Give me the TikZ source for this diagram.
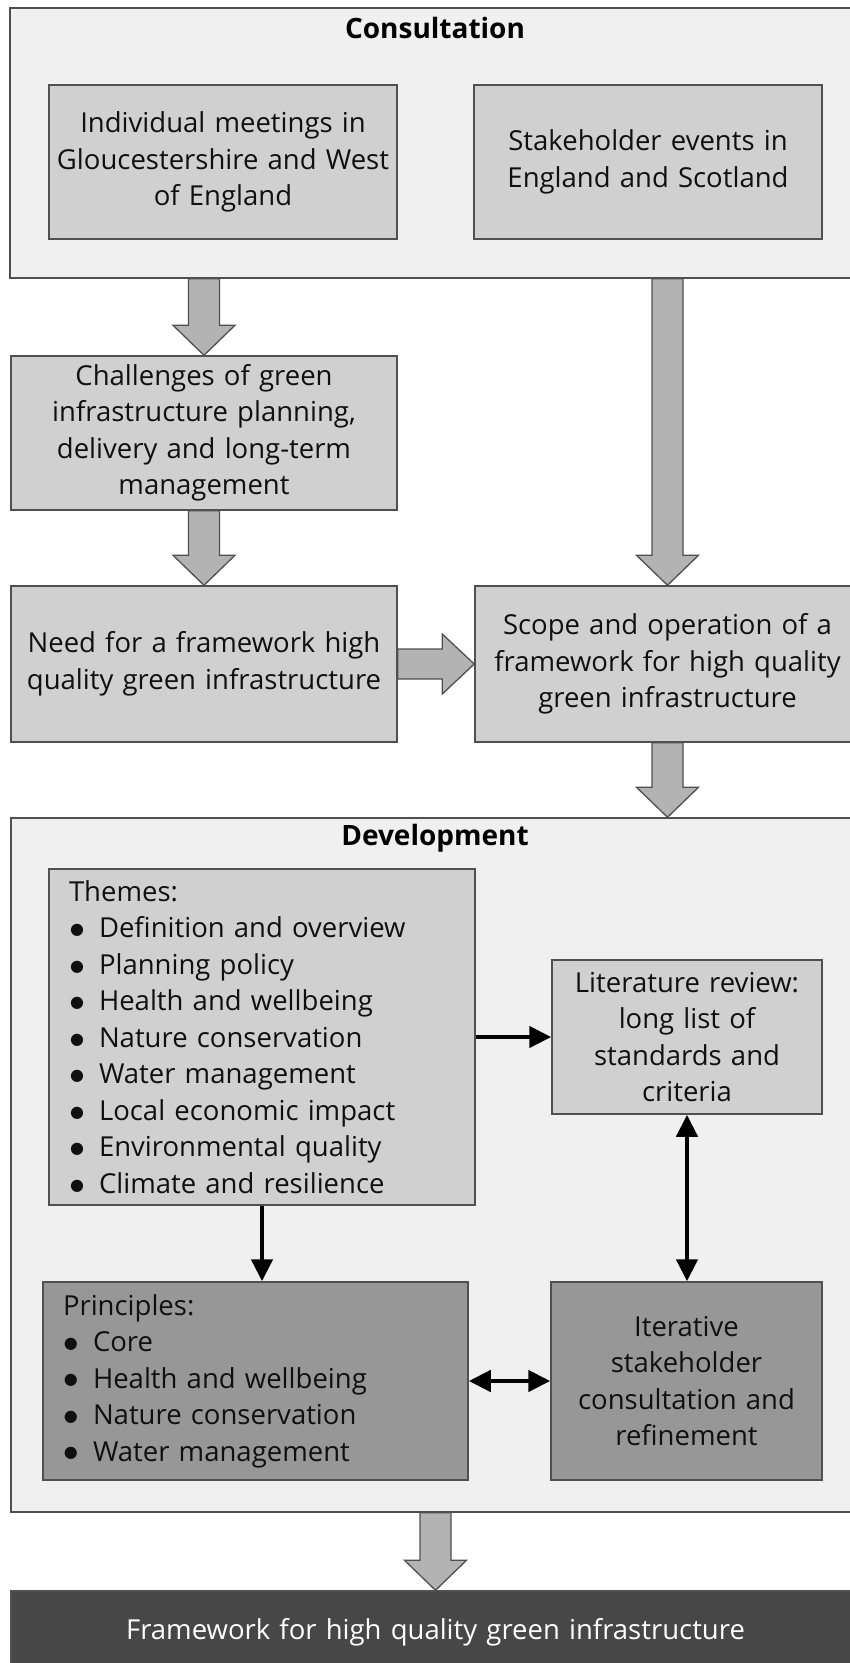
\documentclass[tikz,border=0pt]{standalone}
\usepackage{fontspec}
\setmainfont{Open Sans}
\newfontfamily\dejavu{DejaVu Sans}
\usetikzlibrary{arrows.meta,calc}
\definecolor{contfill}{HTML}{F0F0F0}
\definecolor{lightbox}{HTML}{D0D0D0}
\definecolor{midbox}{HTML}{979797}
\definecolor{darkbox}{HTML}{474747}
\definecolor{edge}{HTML}{505050}
\definecolor{blkfill}{HTML}{B3B3B3}
\definecolor{txt}{HTML}{101010}
\newcommand\blkdown[2]{%
  \filldraw[blk] let \p1=#1, \p2=#2 in
   (\x2-15.5pt,\y1) -- (\x2+15.5pt,\y1) -- (\x2+15.5pt,\y2+30pt) -- (\x2+31pt,\y2+30pt)
   -- (\x2,\y2) -- (\x2-31pt,\y2+30pt) -- (\x2-15.5pt,\y2+30pt) -- cycle;}
\newcommand\blkright[2]{%
  \filldraw[blk] let \p1=#1, \p2=#2 in
   (\x1,\y1+15pt) -- (\x2-32pt,\y1+15pt) -- (\x2-32pt,\y1+30pt) -- (\x2,\y1)
   -- (\x2-32pt,\y1-30pt) -- (\x2-32pt,\y1-15pt) -- (\x1,\y1-15pt) -- cycle;}
\tikzset{
  basefont/.style={font=\fontsize{27.5}{36.5}\selectfont, text=txt},
  container/.style={draw=edge, line width=1.5pt, fill=contfill, rectangle, inner sep=0pt},
  boxbase/.style={draw=edge, line width=1.5pt, rectangle, basefont, inner sep=0pt, align=center},
  lbox/.style={boxbase, fill=lightbox},
  mbox/.style={boxbase, fill=midbox},
  listbox/.style={boxbase, align=left, inner xsep=20pt},
  titletext/.style={font=\fontsize{28}{36}\selectfont\bfseries, text=black},
  blk/.style={draw=edge, line width=1.3pt, fill=blkfill},
  bk/.style={draw=black, line width=4.5pt, line cap=butt},
  tipA/.style={-{Triangle[length=22pt,width=21pt]}},
  tipB/.style={{Triangle[length=22pt,width=21pt]}-{Triangle[length=22pt,width=21pt]}}
}
\newcommand\bul{\makebox[30pt][l]{\kern1pt\raisebox{0.12em}{\dejavu\fontsize{16}{16}\selectfont ●}}}
\begin{document}
\begin{tikzpicture}[x=1pt,y=-1pt]
\useasboundingbox (0,0) rectangle (850,1663);
\fill[white] (0,0) rectangle (850,1663);
% Consultation
\node[container, minimum width=850pt, minimum height=270pt] (cons) at (435,143) {};
\node[titletext] (ctitle) at (435,28) {Consultation};
\node[lbox, minimum width=348pt, minimum height=154pt, text width=348pt] (ind) at (223,162)
  {Individual meetings in\\Gloucestershire and West\\of England};
\node[lbox, minimum width=348pt, minimum height=154pt, text width=348pt] (stake) at (648,162)
  {Stakeholder events in\\England and Scotland};
% middle
\node[lbox, minimum width=386pt, minimum height=154pt, text width=386pt] (chal) at (204,433)
  {Challenges of green\\infrastructure planning,\\delivery and long-term\\management};
\node[lbox, minimum width=386pt, minimum height=156pt, text width=386pt] (need) at (204,664)
  {Need for a framework high\\quality green infrastructure};
\node[lbox, minimum width=385pt, minimum height=156pt, text width=385pt] (scope) at (667.5,664)
  {Scope and operation of a\\framework for high quality\\green infrastructure};
% Development
\node[container, minimum width=849pt, minimum height=694pt] (dev) at (435.5,1165) {};
\node[titletext] (dtitle) at (435,838) {Development};
\node[listbox, fill=lightbox, minimum width=426pt, minimum height=336pt, text width=386pt] (themes) at (262,1037)
  {Themes:\\\bul Definition and overview\\\bul Planning policy\\\bul Health and wellbeing\\\bul Nature conservation\\\bul Water management\\\bul Local economic impact\\\bul Environmental quality\\\bul Climate and resilience};
\node[lbox, minimum width=270pt, minimum height=154pt, text width=270pt] (lit) at (687,1037)
  {Literature review:\\long list of\\standards and\\criteria};
\node[listbox, fill=midbox, minimum width=425pt, minimum height=198pt, text width=385pt] (princ) at (255.5,1381)
  {Principles:\\\bul Core\\\bul Health and wellbeing\\\bul Nature conservation\\\bul Water management};
\node[mbox, minimum width=271pt, minimum height=198pt, text width=271pt] (iter) at (686.5,1381)
  {Iterative\\stakeholder\\consultation and\\refinement};
% Final
\node[boxbase, fill=darkbox, text=white, minimum width=849pt, minimum height=82pt, text width=849pt] (final) at (435.5,1632)
  {Framework for high quality green infrastructure};
% block arrows
\blkdown{(cons.south)}{(chal.north)}
\blkdown{(chal.south)}{(need.north)}
\blkdown{(cons.south)}{(scope.north)}
\blkright{(need.east)}{(scope.west)}
\blkdown{(scope.south)}{(dev.north -| scope.south)}
\blkdown{(dev.south)}{(final.north)}
% black arrows
\draw[bk, tipA] (themes.east) -- (lit.west);
\draw[bk, tipA] (themes.south) -- (themes.south |- princ.north);
\draw[bk, tipB] (lit.south) -- (lit.south |- iter.north);
\draw[bk, tipB] (princ.east) -- (iter.west);
\end{tikzpicture}
\end{document}
